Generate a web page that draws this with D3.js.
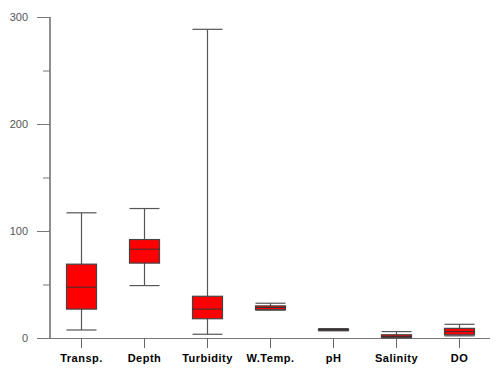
<!DOCTYPE html>
<html>
<head>
<meta charset="utf-8">
<script src="https://cdn.jsdelivr.net/npm/d3@7"></script>
<style>
  body { margin: 0; background: #fff; }
</style>
</head>
<body>
<svg class="vis" width="499" height="368"></svg>
<script>
// box plot data
var categories = ["Transp.", "Depth", "Turbidity", "W.Temp.", "pH", "Salinity", "DO"];
var mins    = [7.5, 49, 3.5, 26, 6.8, 0.3, 2];
var q1s     = [27, 70, 18, 26.5, 7.2, 0.3, 3];
var medians = [47.5, 83, 27, 28.5, 7.8, 1.5, 6];
var q3s     = [69, 92, 39, 30, 8.4, 3, 9];
var maxs    = [117, 121, 288.5, 32.5, 8.8, 6, 12.8];
var yTicks  = [0, 100, 200, 300];
var yMinor  = [50, 150, 250];

var data = categories.map(function (c, i) {
    return { name: c, min: mins[i], q1: q1s[i], med: medians[i], q3: q3s[i], max: maxs[i] };
});

var svg = d3.select(".vis");

var x = d3.scaleBand()
    .domain(categories)
    .range([50, 491]);

var y = d3.scaleLinear()
    .domain([0, 300])
    .range([338, 17]);

var boxW = 30;
var stroke = "#444";

// y axis
svg.append("line")
    .attr("x1", 50).attr("x2", 50)
    .attr("y1", y(300)).attr("y2", y(0))
    .attr("stroke", stroke).attr("stroke-width", 1.2);

svg.selectAll(".ytick")
    .data(yTicks)
    .join("line")
    .attr("class", "ytick")
    .attr("x1", 37).attr("x2", 50)
    .attr("y1", function (d) { return y(d) + 0.5; })
    .attr("y2", function (d) { return y(d) + 0.5; })
    .attr("stroke", "#777");

svg.selectAll(".yminor")
    .data(yMinor)
    .join("line")
    .attr("class", "yminor")
    .attr("x1", 43).attr("x2", 50)
    .attr("y1", function (d) { return y(d) + 0.5; })
    .attr("y2", function (d) { return y(d) + 0.5; })
    .attr("stroke", "#777");

svg.selectAll(".ylabel")
    .data(yTicks)
    .join("text")
    .attr("class", "ylabel")
    .attr("x", 28)
    .attr("y", function (d) { return y(d) + 4; })
    .attr("text-anchor", "end")
    .attr("font-family", "Arial, sans-serif")
    .attr("font-size", "11px")
    .attr("fill", "#555")
    .text(function (d) { return d; });

// x axis
svg.append("line")
    .attr("x1", 37).attr("x2", 490)
    .attr("y1", y(0) + 0.5).attr("y2", y(0) + 0.5)
    .attr("stroke", "#777");

svg.selectAll(".xtick")
    .data(categories)
    .join("line")
    .attr("class", "xtick")
    .attr("x1", function (d) { return x(d) + x.bandwidth() / 2; })
    .attr("x2", function (d) { return x(d) + x.bandwidth() / 2; })
    .attr("y1", y(0)).attr("y2", y(0) + 10)
    .attr("stroke", "#666");

svg.selectAll(".xlabel")
    .data(categories)
    .join("text")
    .attr("class", "xlabel")
    .attr("x", function (d) { return x(d) + x.bandwidth() / 2; })
    .attr("y", 362)
    .attr("text-anchor", "middle")
    .attr("font-family", "Arial, sans-serif")
    .attr("font-size", "11px")
    .attr("font-weight", "bold")
    .attr("letter-spacing", "0.5px")
    .attr("fill", "#000")
    .text(function (d) { return d; });

// boxes
var g = svg.selectAll(".box")
    .data(data)
    .join("g")
    .attr("class", "box")
    .attr("transform", function (d) { return "translate(" + (x(d.name) + x.bandwidth() / 2) + ",0)"; });

g.append("line")
    .attr("x1", 0).attr("x2", 0)
    .attr("y1", function (d) { return y(d.max); })
    .attr("y2", function (d) { return y(d.min); })
    .attr("stroke", "#555").attr("stroke-width", 1.2);

g.append("line")
    .attr("x1", -boxW / 2).attr("x2", boxW / 2)
    .attr("y1", function (d) { return y(d.max); })
    .attr("y2", function (d) { return y(d.max); })
    .attr("stroke", "#555").attr("stroke-width", 1.2);

g.append("line")
    .attr("x1", -boxW / 2).attr("x2", boxW / 2)
    .attr("y1", function (d) { return y(d.min); })
    .attr("y2", function (d) { return y(d.min); })
    .attr("stroke", "#555").attr("stroke-width", 1.2);

g.append("rect")
    .attr("x", -boxW / 2)
    .attr("width", boxW)
    .attr("y", function (d) { return y(d.q3); })
    .attr("height", function (d) { return Math.max(1.5, y(d.q1) - y(d.q3)); })
    .attr("fill", "#ff0000")
    .attr("stroke", stroke)
    .attr("stroke-width", 1.2);

g.append("line")
    .attr("x1", -boxW / 2).attr("x2", boxW / 2)
    .attr("y1", function (d) { return y(d.med); })
    .attr("y2", function (d) { return y(d.med); })
    .attr("stroke", "#333").attr("stroke-width", 1);
</script>
</body>
</html>
